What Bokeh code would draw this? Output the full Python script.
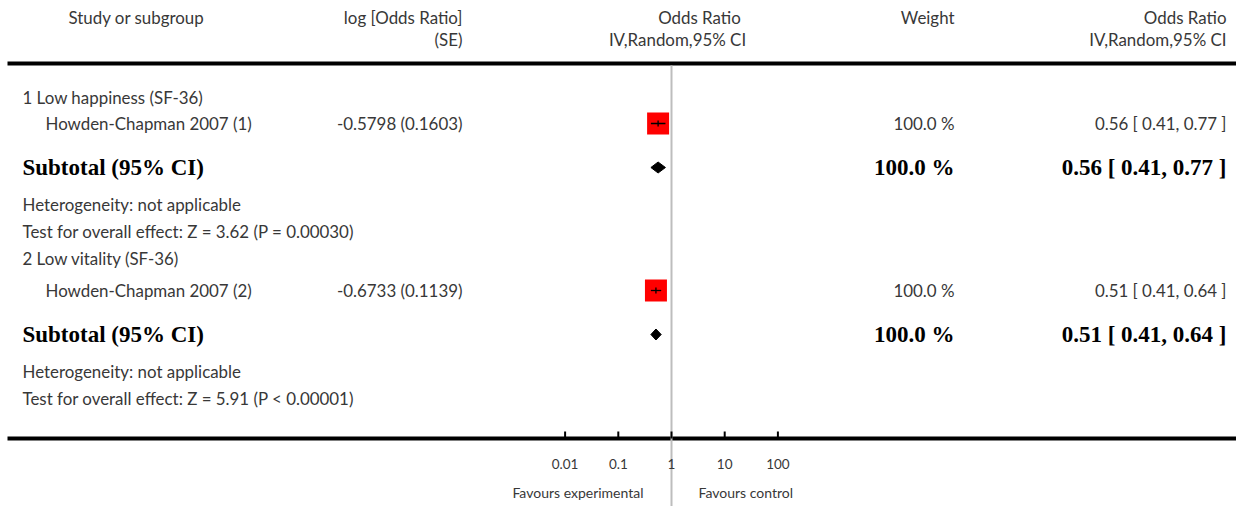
import numpy as np
from bokeh.plotting import figure
from bokeh.models import Range1d, LogScale, ColumnDataSource
from bokeh.core.properties import value
from bokeh.embed import file_html
from bokeh.resources import INLINE

# ---------------- data ----------------
group_titles = ["1 Low happiness (SF-36)", "2 Low vitality (SF-36)"]
study_names = ["Howden-Chapman 2007 (1)", "Howden-Chapman 2007 (2)"]
log_or = [-0.5798, -0.6733]
log_se = [0.1603, 0.1139]
study_or = [0.56, 0.51]
study_lo = [0.41, 0.41]
study_hi = [0.77, 0.64]
study_weight = [100.0, 100.0]
sub_or = [0.56, 0.51]
sub_lo = [0.41, 0.41]
sub_hi = [0.77, 0.64]
sub_weight = [100.0, 100.0]
heterogeneity = ["Heterogeneity: not applicable", "Heterogeneity: not applicable"]
overall_test = ["Test for overall effect: Z = 3.62 (P = 0.00030)",
                "Test for overall effect: Z = 5.91 (P < 0.00001)"]
tick_values = [0.01, 0.1, 1, 10, 100]
tick_labels = ["0.01", "0.1", "1", "10", "100"]

# ---------------- layout (image pixel coords) ----------------
W, H = 1236, 506
X0, Y0 = 0, 0
FONT = value("Lato")
SERIF = value("Liberation Serif")
TXT = "#383838"
FS = "16.9px"
BFS = "23px"

# log scale mapping: OR=1 at x=671, 53.2 px per decade
px_one, px_dec = 671.0, 53.2
or_lo = 10 ** ((X0 - px_one) / px_dec)
or_hi = 10 ** ((X0 + W - px_one) / px_dec)

p = figure(width=W, height=H, output_backend="svg", toolbar_location=None,
           x_range=Range1d(X0, X0 + W), y_range=Range1d(Y0 + H, Y0),
           min_border=0, min_border_left=0, min_border_right=0,
           min_border_top=0, min_border_bottom=0,
           x_axis_location=None, y_axis_location=None, outline_line_color=None)
p.grid.visible = False
p.extra_x_ranges = {"or": Range1d(or_lo, or_hi)}
p.extra_x_scales = {"or": LogScale()}

row_group = [97, 258]
row_study = [123, 290]
row_sub = [167, 334]
row_het = [204, 371]
row_test = [231, 398]
header_line_y = 63
axis_y = 438


def txt(x, y, s, align="left", size=FS, font=FONT, color=TXT, style="normal"):
    p.text(x=x, y=y, text=s, text_align=align, text_baseline="middle",
           text_font=font, text_font_size=size, text_color=color, text_font_style=style)


# header
txt([136], [17], ["Study or subgroup"], "center")
txt([462], [17], ["log [Odds Ratio]"], "right")
txt([462], [39], ["(SE)"], "right")
txt([699], [17], ["Odds Ratio"], "center")
txt([677], [39], ["IV,Random,95% CI"], "center")
txt([954], [17], ["Weight"], "right")
txt([1226], [17], ["Odds Ratio"], "right")
txt([1226], [39], ["IV,Random,95% CI"], "right")

# rules
p.segment(x0=[7, 7], x1=[X0 + W, X0 + W], y0=[header_line_y, axis_y],
          y1=[header_line_y, axis_y], line_color="black", line_width=4)
p.segment(x0=[1], x1=[1], y0=[header_line_y + 2], y1=[Y0 + H],
          x_range_name="or", line_color="#bdbdbd", line_width=2)

# rows
txt([22, 22], row_group, group_titles)
txt([45, 45], row_study, study_names)
txt([462, 462], row_study, ["%.4f (%.4f)" % (a, b) for a, b in zip(log_or, log_se)], "right")
txt([954, 954], row_study, ["%.1f %%" % w for w in study_weight], "right")
txt([1226, 1226], row_study,
    ["%.2f [ %.2f, %.2f ]" % (a, b, c) for a, b, c in zip(study_or, study_lo, study_hi)], "right")
txt([22, 22], row_sub, ["Subtotal (95% CI)"] * 2, size=BFS, font=SERIF, color="black", style="bold")
txt([954, 954], row_sub, ["%.1f %%" % w for w in sub_weight], "right", size=BFS, font=SERIF,
    color="black", style="bold")
txt([1226, 1226], row_sub,
    ["%.2f [ %.2f, %.2f ]" % (a, b, c) for a, b, c in zip(sub_or, sub_lo, sub_hi)], "right",
    size=BFS, font=SERIF, color="black", style="bold")
txt([22, 22], row_het, heterogeneity)
txt([22, 22], row_test, overall_test)

# squares + CIs
src = ColumnDataSource(dict(x=study_or, lo=study_lo, hi=study_hi, y=row_study))
p.scatter(x="x", y="y", source=src, marker="square", size=22, fill_color="red",
          line_color=None, x_range_name="or")
p.segment(x0="lo", x1="hi", y0="y", y1="y", source=src, line_color="black",
          line_width=1.3, x_range_name="or")
p.scatter(x="x", y="y", source=src, marker="dash", angle=np.pi / 2, size=6,
          line_color="black", line_width=1.3, x_range_name="or")

# diamonds
xs = [[lo, m, hi, m] for lo, m, hi in zip(sub_lo, sub_or, sub_hi)]
ys = [[y, y - 5.5, y, y + 5.5] for y in row_sub]
p.patches(xs=xs, ys=ys, fill_color="black", line_color="black", x_range_name="or")

# axis
p.segment(x0=tick_values, x1=tick_values, y0=[axis_y] * 5, y1=[axis_y - 7] * 5,
          line_color="black", line_width=2, x_range_name="or")
p.text(x=tick_values, y=[463] * 5, text=tick_labels, text_align="center",
       text_baseline="middle", text_font=FONT, text_font_size="13.5px",
       text_color=TXT, x_range_name="or")
txt([643], [492], ["Favours experimental"], "right", size="14px")
txt([698], [492], ["Favours control"], "left", size="14px")

open("out.html", "w").write(file_html(p, INLINE))
